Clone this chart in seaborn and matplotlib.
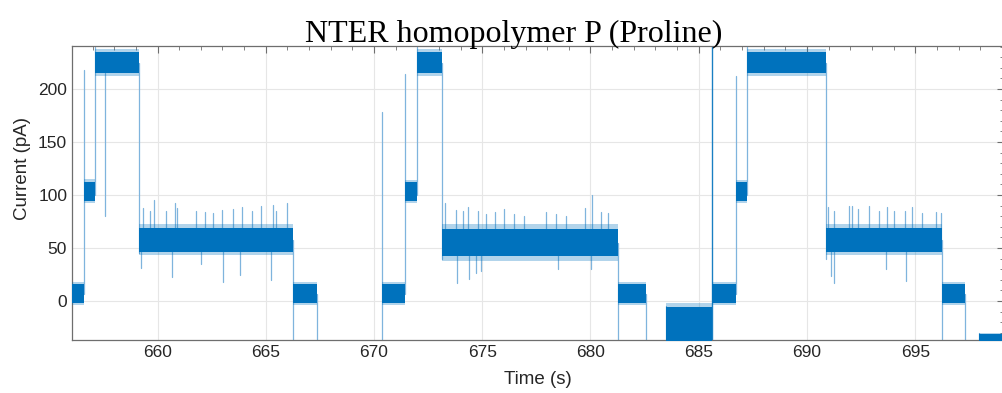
import matplotlib
matplotlib.use("Agg")
import numpy as np
import pandas as pd
import matplotlib.pyplot as plt
from matplotlib.ticker import MultipleLocator
import seaborn as sns

# ---------------- data ----------------
# current levels: dwell segments (s) with the dense band and its fringe (pA)
seg_start = [656.05, 656.62, 657.13, 659.15, 666.26, 670.38, 671.44, 671.99, 673.15,
             681.29, 683.48, 685.63, 686.71, 687.24, 690.86, 696.24, 697.93]
seg_end = [656.62, 657.13, 659.15, 666.26, 667.36, 671.44, 671.99, 673.15, 681.29,
           682.56, 685.63, 686.71, 687.24, 690.86, 696.24, 697.32, 699.10]
seg_lo = [-2, 94, 215, 46, -2, -2, 94, 215, 42, -2, -40, -2, 94, 215, 46, -2, -45]
seg_hi = [16, 112, 235, 69, 16, 16, 112, 235, 68, 16, -6, 16, 112, 235, 69, 16, -31]
seg_flo = [-4, 92, 212, 43, -4, -4, 92, 212, 38, -4, -45, -4, 92, 212, 43, -4, -45]
seg_fhi = [18, 115, 238, 73, 18, 18, 114, 238, 73, 18, -2, 18, 114, 238, 73, 18, -30]

# transitions between levels (s, pA from, pA to)
trans_t = [656.62, 657.13, 657.57, 659.15, 666.26, 667.36, 670.38, 671.44, 671.99,
           673.15, 681.29, 682.56, 683.48, 685.63, 686.71, 687.24, 690.86, 696.24,
           697.32, 697.93]
trans_from = [7, 100, 215, 225, 58, 7, -40, 7, 100, 225, 55, 7, -40, -40, 7, 100,
              225, 58, 7, -40]
trans_to = [218, 240, 80, 45, -40, -40, 178, 214, 240, 40, -40, -40, -5, 245,
            212, 240, 40, -40, -40, -30]

# brief spikes on the ~55 pA level (s, pA)
spike_t = [659.34, 659.65, 659.85, 660.39, 660.80, 660.89, 661.80, 662.18, 662.57,
           662.97, 663.49, 663.88, 664.38, 664.80, 665.34, 665.49, 665.98,
           659.23, 660.65, 662.03, 663.03, 663.80, 665.22,
           673.27, 673.80, 674.10, 674.33, 674.82, 675.18, 675.59, 676.02, 676.48,
           676.95, 677.95, 678.41, 678.87, 679.75, 680.05, 680.48, 680.79,
           673.82, 674.38, 674.72, 674.95, 678.48, 680.02,
           690.98, 691.24, 691.94, 692.09, 692.36, 692.86, 693.32, 693.70, 694.01,
           694.55, 694.86, 695.32, 695.94, 696.19,
           691.12, 691.26, 693.63, 694.58]
spike_v = [88, 85, 95, 85, 92, 88, 85, 84, 83, 86, 87, 89, 85, 90, 91, 85, 92,
           31, 23, 35, 18, 25, 20,
           92, 86, 85, 89, 85, 82, 84, 87, 82, 80, 84, 82, 80, 88, 100, 84, 83,
           17, 21, 26, 28, 30, 30,
           89, 85, 90, 90, 87, 90, 85, 89, 85, 85, 89, 83, 84, 83,
           24, 17, 30, 19]

x_ticks = [660, 665, 670, 675, 680, 685, 690, 695]
y_ticks = [0, 50, 100, 150, 200]
title = "NTER homopolymer P (Proline)"
x_label = "Time (s)"
y_label = "Current (pA)"

# ---------------- style ----------------
sns.set_theme(style="whitegrid")
plt.rcParams["font.family"] = ["Liberation Sans", "DejaVu Sans"]
blue = "#0072BD"
light = "#7fb4dd"
axis_col = "#6e6e6e"

fig = plt.figure(figsize=(10.02, 3.93), dpi=100)
ax = fig.add_axes([72 / 1002, 1 - 340 / 393, (1004 - 72) / 1002, (340 - 46) / 393])

# transitions and spikes as line segments via seaborn
rows = []
for i, (t, a, b) in enumerate(zip(trans_t, trans_from, trans_to)):
    rows.append(dict(t=t, y=a, uid=f"tr{i}"))
    rows.append(dict(t=t, y=b, uid=f"tr{i}"))
seg_mid = [(lo + hi) / 2 for lo, hi in zip(seg_lo, seg_hi)]
for j, (t, v) in enumerate(zip(spike_t, spike_v)):
    base = 55
    for s0, s1, m in zip(seg_start, seg_end, seg_mid):
        if s0 <= t <= s1:
            base = m
    rows.append(dict(t=t, y=base, uid=f"sp{j}"))
    rows.append(dict(t=t, y=v, uid=f"sp{j}"))
df_lines = pd.DataFrame(rows)
sns.lineplot(data=df_lines, x="t", y="y", units="uid", estimator=None, sort=False,
             color=light, lw=0.9, ax=ax, zorder=2)

# the dark full-height transition at ~685.6 s
k = trans_t.index(685.63)
ax.plot([trans_t[k], trans_t[k]], [trans_from[k], trans_to[k]], color=blue, lw=0.9,
        alpha=0.8, zorder=2)

# current level bands
for s0, s1, lo, hi, flo, fhi in zip(seg_start, seg_end, seg_lo, seg_hi, seg_flo, seg_fhi):
    ax.fill_between([s0, s1], [flo, flo], [fhi, fhi], color=blue, alpha=0.3,
                    lw=0, zorder=3)
    ax.fill_between([s0, s1], [lo, lo], [hi, hi], color=blue, lw=0, zorder=4)

ax.set_xlim(656.05, 699.10)
ax.set_ylim(-36.8, 240.6)
ax.set_xticks(x_ticks)
ax.set_yticks(y_ticks)
ax.xaxis.set_minor_locator(MultipleLocator(1))
ax.yaxis.set_minor_locator(MultipleLocator(10))
ax.grid(True, which="major", color="#e6e6e6", lw=0.8)
ax.grid(False, which="minor")
ax.set_axisbelow(True)
for sp in ax.spines.values():
    sp.set_color(axis_col)
    sp.set_linewidth(0.9)
ax.tick_params(which="both", direction="in", top=True, right=True, colors=axis_col,
               labelcolor="#262626", labelsize=12.5)
ax.tick_params(which="major", length=5, width=0.8)
ax.tick_params(which="minor", length=3, width=0.6)
ax.set_xlabel(x_label, fontsize=13.5, color="#262626", labelpad=8)
ax.set_ylabel(y_label, fontsize=13.5, color="#262626")
ax.yaxis.set_label_coords(-0.044, 0.585)
ax.set_title(title, family=["Liberation Serif", "DejaVu Serif"], fontsize=23,
             color="#000000", pad=3, x=0.4737)

fig.savefig("out.png", dpi=100)
